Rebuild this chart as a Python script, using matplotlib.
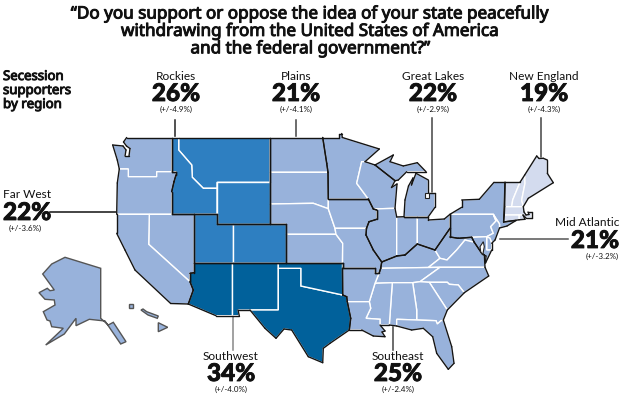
import matplotlib
matplotlib.use("Agg")
import matplotlib.pyplot as plt
from matplotlib.patches import Polygon
import matplotlib.patheffects as pe
from collections import Counter

plt.rcParams['font.family'] = ['Lato', 'Noto Sans', 'DejaVu Sans']

TITLE_LINES = ["\u201cDo you support or oppose the idea of your state peacefully",
               "withdrawing from the United States of America",
               "and the federal government?\u201d"]
SIDE_LINES = ["Secession", "supporters", "by region"]

REGION_NAMES = ["Rockies", "Plains", "Great Lakes", "New England", "Far West", "Mid Atlantic", "Southwest", "Southeast"]
REGION_PCT = ["26%", "21%", "22%", "19%", "22%", "21%", "34%", "25%"]
REGION_MOE = ["(+/-4.9%)", "(+/-4.1%)", "(+/-2.9%)", "(+/-4.3%)", "(+/-3.6%)", "(+/-3.2%)", "(+/-4.0%)", "(+/-2.4%)"]

# State outlines (map geometry, in picture coordinates)
WA = [(126.7,137.5),(171.7,137.5),(171.7,171.7),(156.7,171.7),(156.7,176.7),(128.3,176.7),(128.3,169),(119.3,169),(117.3,160),(112.7,145),(123,146),(126,150),(125,156),(129,156),(130,148.5),(126.5,146),(123.5,142)]
OR = [(119.3,169),(128.3,169),(128.3,176.7),(156.7,176.7),(156.7,171.7),(171.7,171.7),(176,171.7),(176,175),(174,181.7),(171.7,191.7),(171.7,214.3),(149.3,214.3),(116.7,214.3),(117.3,183)]
NV = [(149.3,214.3),(171.7,214.3),(194.3,214.3),(194.3,263.3),(194.3,272.7),(190,273.3),(190,281.7),(148.7,244.3)]
CA = [(116.7,214.3),(149.3,214.3),(148.7,244.3),(190,281.7),(193.3,290),(188.3,304),(170.7,303.5),(135,270),(125,250),(116.7,233.3)]
AK = [(65,257.3),(100.7,268.3),(100.7,318.3),(108.3,325),(113.3,322.3),(126,341.7),(120.7,344),(105,321),(89.3,319.3),(76,325.7),(76,318.3),(64.3,334),(45.7,345),(63.3,328.3),(51.7,326.7),(50,321),(47,320),(43.3,311.7),(55,305),(54.3,300),(45,299.3),(39,292.7),(47.3,288.3),(50,290.7),(54.3,290),(42.7,274),(51.7,264)]
HI1 = [(128.7,304.3),(133.3,304.3),(133.3,307.7),(128.7,307.7)]
HI2 = [(141,310),(143,309),(146.7,311.7),(158.3,316),(157.3,318.3),(148,315)]
HI3 = [(158.3,322.7),(167.7,327.3),(158.3,331.7)]

MT = [(178.7,137.5),(270,137.5),(270,182.3),(217,182.3),(217,188.3),(203.3,188.3),(192.3,177.3),(191.7,165),(178.7,150)]
ID = [(171.7,137.5),(178.7,137.5),(178.7,150),(191.7,165),(192.3,177.3),(203.3,188.3),(217,188.3),(217,214.3),(194.3,214.3),(171.7,214.3),(171.7,191.7),(174,181.7),(176,175),(176,171.7),(171.7,171.7)]
WY = [(217,182.3),(270,182.3),(270,224),(217,224),(217,214.3),(217,188.3)]
UT = [(194.3,214.3),(217,214.3),(217,224),(232.5,224),(232.5,263.3),(194.3,263.3)]
CO = [(232.5,224),(285.7,224),(285.7,263.3),(232.5,263.3)]

AZ = [(194.3,263.3),(232.5,263.3),(232.5,315.7),(216,315.7),(188.3,304),(193.3,290),(190,281.7),(190,273.3),(194.3,272.7)]
NM = [(232.5,263.3),(278.3,263.3),(278.3,268.3),(278.3,310),(250,310),(238,310),(239.3,315.7),(232.5,315.7)]
TX = [(278.3,268.3),(301,268.3),(301,286),(342.7,295),(346.7,296.7),(347.3,301.7),(350.7,318.3),(349.3,330),(330,343.3),(323.3,348.3),(322.7,362.7),(308.3,356.7),(291.7,330),(284,329),(276,338.3),(265,328.3),(250,310),(278.3,310)]
OK = [(278.3,263.3),(342.5,263.3),(342.5,268.3),(342.7,295),(301,286),(301,268.3),(278.3,268.3)]

ND = [(270,137.5),(322.7,137.5),(326.7,163.3),(328,172.3),(270,172.3)]
SD = [(270,172.3),(328,172.3),(328.3,199),(328.3,208.7),(313.3,203.3),(270,204)]
NE = [(270,204),(313.3,203.3),(328.3,208.7),(335,228.3),(336,234.3),(285.7,234.3),(285.7,224),(270,224)]
KS = [(285.7,234.3),(336,234.3),(342.7,243.3),(342.5,263.3),(285.7,263.3)]
IA = [(328.3,199),(368.3,199),(373.3,209),(376.7,210),(376.7,219.3),(369,221.7),(366.5,228.3),(335,228.3),(328.3,208.7)]
MO = [(335,228.3),(366.5,228.3),(366,235),(373.3,250),(381.7,262),(380.7,268.3),(379.3,272.7),(375,272.7),(375,268.3),(342.5,268.3),(342.5,263.3),(342.7,243.3),(336,234.3)]

MN = [(322.7,137.5),(339.3,137.5),(339.3,133.5),(341.7,133.5),(342.3,137.5),(379.3,149),(365,161.7),(361.7,161.7),(356.7,183.3),(368.3,199),(328.3,199),(328,172.3),(326.7,163.3)]
WI = [(361.7,161.7),(365,161.7),(375,165),(395,180.7),(391.5,187.5),(397,184),(395,208.3),(373.3,209),(368.3,199),(356.7,183.3)]
MI_U = [(375,165),(393.3,155),(390,161.7),(403.3,166),(417.3,162.7),(426,171.7),(406.7,171.7),(398.3,180),(395,180.7)]
MI_L = [(404,216.7),(405,200),(408.5,186),(413,178),(411.5,185),(416,173.3),(428.3,180),(428.3,193.3),(435,193.3),(435,207.3),(428.3,216.7),(417.3,216.7)]
IL = [(373.3,209),(395,208.3),(396.7,217),(396.7,256),(381.7,262),(373.3,250),(366,235),(366.5,228.3),(369,221.7),(376.7,219.3),(376.7,210)]
IN = [(396.7,217),(404,216.7),(417.3,216.7),(417.3,244),(405,255),(396.7,256)]
OH = [(417.3,216.7),(428.3,216.7),(428.3,220),(444.3,219),(450,214.3),(450,228.3),(435,250),(417.3,244)]

NY = [(450,214.3),(461.7,207.3),(461.7,200),(479.3,199.3),(494,182.3),(505,182.3),(503.6,222),(516,220.5),(507,226),(499.5,228),(499.5,224),(493.3,214.3)]
PA = [(450,214.3),(493.3,214.3),(496,221),(490.7,226.7),(493.3,233.3),(486.7,236.7),(471.7,237.3),(458.3,238.3),(450,237),(450,228.3)]
NJ = [(493.3,214.3),(499.5,224),(499.5,228),(495,240),(491.7,243.3),(490,238.3),(486.7,236.7),(493.3,233.3),(490.7,226.7),(496,221)]
DE = [(486.7,236.7),(490,238.3),(491.7,243.3),(491.7,250),(486.7,250)]
MD = [(471.7,237.3),(486.7,236.7),(486.7,250),(491.7,250),(485.5,263),(486,256),(484.3,255),(481.7,253.3),(474.3,242.3)]

VT = [(505,182.3),(520,182.3),(512.7,200),(511.7,206.7),(504.7,206.7)]
NH = [(520,182.3),(524.7,175),(525,183.3),(521.7,200),(523.3,206.7),(511.7,206.7),(512.7,200)]
ME = [(524.7,175),(536.7,156),(539,158.5),(543.3,158.3),(547.3,160),(547.3,173.3),(553.3,182.7),(528.3,198.3),(523.3,206.7),(521.7,200),(525,183.3)]
MA = [(504.7,206.7),(511.7,206.7),(523.3,206.7),(524,212),(526,215),(529,214.5),(528,212),(531.5,212),(531.5,218),(526,218),(523,215),(519,215),(504.3,215)]
RI = [(519,215),(523,215),(525,219.3),(519,219.8)]
CT = [(504.3,215),(519,215),(519,219.8),(503.6,222)]

KY = [(381.7,262),(396.7,256),(405,255),(417.3,244),(435,250),(440,258.3),(428.3,267.5),(380.7,268.3)]
WV = [(435,250),(450,228.3),(450,237),(458.3,238.3),(471.7,237.3),(474.3,242.3),(465,240),(456.7,250),(447,260),(440,258.3)]
VA = [(428.3,267.5),(440,258.3),(447,260),(456.7,250),(465,240),(474.3,242.3),(481.7,253.3),(484.3,255),(485,267.3),(440,267.3)]
TN = [(380.7,268.3),(428.3,267.5),(440,267.3),(420,281.7),(412.7,282.7),(392.3,282.7),(375,283.3),(379.3,272.7)]
NC = [(440,267.3),(485,267.3),(488.7,276),(464.3,292.7),(458.3,285),(449.3,284.3),(447.3,282.3),(429.3,282.3),(420,281.7)]
SC = [(429.3,282.3),(447.3,282.3),(449.3,284.3),(458.3,285),(464.3,292.7),(447.3,310)]
GA = [(412.7,282.7),(420,281.7),(429.3,282.3),(447.3,310),(443.3,320),(440.7,321),(437.3,324),(436,320.7),(416.7,320),(416.7,310)]
AL = [(392.3,282.7),(412.7,282.7),(416.7,310),(416.7,320),(396.7,319.3),(396.7,326),(389.3,325)]
MS = [(375,283.3),(392.3,282.7),(389.3,325),(380,325),(380,319.3),(366,318.3),(370.7,308.3),(369.3,301.7)]
AR = [(342.5,268.3),(375,268.3),(375,272.7),(379.3,272.7),(375,283.3),(369.3,301.7),(347.3,301.7),(346.7,296.7),(342.7,295)]
LA = [(347.3,301.7),(369.3,301.7),(370.7,308.3),(366,318.3),(380,319.3),(380,325),(385,331),(382,332),(385,336.7),(373.3,336),(361.7,330),(349.3,330),(350.7,318.3)]
FL = [(396.7,319.3),(416.7,320),(436,320.7),(437.3,324),(440.7,321),(443.3,320),(451.7,346.7),(454,363.3),(448.3,369.3),(436.7,353.3),(432.7,336.7),(423.3,328.3),(411.7,330),(396.7,326)]

BAY = [(480,246.7),(483.3,241.7),(484.3,246.7),(482.7,255),(480.7,251.7)]
SAGINAW = [(425,192.7),(428.5,192.7),(428.5,197.5),(425,197.5)]

LIGHT, PALE, MID, DARK = "#98B2DB", "#D3DBEE", "#2E7FC1", "#01619B"

# (fill colour, outlined group of states)
GROUPS = [
    (LIGHT, [WA, OR, NV, CA]),
    (LIGHT, [ND, SD, NE, KS, IA, MO]),
    (LIGHT, [MN, WI, IL, IN, OH]),
    (LIGHT, [MI_U]), (LIGHT, [MI_L]),
    (LIGHT, [KY, WV, VA, TN, NC, SC, GA, AL, MS, AR, LA, FL]),
    (LIGHT, [NY, PA, NJ, DE, MD]),
    (PALE, [VT, NH, ME, MA, RI, CT]),
    (MID, [MT, ID, WY]),
    (MID, [UT, CO]),
    (DARK, [AZ, NM, TX, OK]),
]
ISLANDS = [AK, HI1, HI2, HI3]

fig = plt.figure(figsize=(6.21, 4.01), dpi=100)
ax = fig.add_axes([0, 0, 1, 1])
ax.set_xlim(0, 621)
ax.set_ylim(401, 0)
ax.axis("off")

def key(a, b):
    return (a, b) if a <= b else (b, a)

for color, states in GROUPS:
    counts = Counter()
    for s in states:
        ax.add_patch(Polygon(s, closed=True, facecolor=color, edgecolor="white", lw=1.0, zorder=2))
        for a, b in zip(s, s[1:] + s[:1]):
            counts[key(a, b)] += 1
    for (a, b), n in counts.items():
        if n == 1:
            ax.plot([a[0], b[0]], [a[1], b[1]], color="#141414", lw=1.0, solid_capstyle="round", zorder=3)

for s in ISLANDS:
    ax.add_patch(Polygon(s, closed=True, facecolor=LIGHT, edgecolor="#555555", lw=1.0, zorder=2))
for s in [BAY, SAGINAW]:
    ax.add_patch(Polygon(s, closed=True, facecolor="white", edgecolor="#222222", lw=0.8, zorder=4))

# Leaders: x0, y0, x1, y1, colour
LEADERS = [(175, 120, 175, 137.5, "#222222"), (296.3, 120, 296.3, 137.5, "#444444"),
           (432.3, 118, 432.3, 193, "#444444"), (540.7, 118, 540.7, 157, "#444444"),
           (50, 212.3, 116, 212.3, "#111111"), (500, 238.5, 568, 238.5, "#555555"),
           (232.7, 316, 232.7, 350, "#888888"), (393.3, 326, 393.3, 350, "#444444")]
for x0, y0, x1, y1, c in LEADERS:
    ax.plot([x0, x1], [y0, y1], color=c, lw=1.1, zorder=1.5)

heavy = [pe.withStroke(linewidth=0.7, foreground="#111111")]
for i, line in enumerate(TITLE_LINES):
    ax.text(311, 14.5 + i * 17.4, line, ha="center", va="center", fontsize=12.3, fontweight="black",
            family=["Noto Sans", "DejaVu Sans"], color="#111111", path_effects=heavy)
for i, line in enumerate(SIDE_LINES):
    ax.text(3, 76.5 + i * 14, line, ha="left", va="center", fontsize=9.5, fontweight="black",
            family=["Noto Sans", "DejaVu Sans"], color="#111111", path_effects=heavy)

# anchor x, top y, alignment of each label block
LABEL_X = [176, 296, 433, 544, 3, 619, 231, 398]
LABEL_Y = [76, 76, 76, 76, 195, 223, 356, 356]
LABEL_HA = ["center", "center", "center", "center", "left", "right", "center", "center"]
MOE_X = [176, 296, 433, 544, 25, 619, 231, 398]
for name, pct, moe, x, y, ha, mx in zip(REGION_NAMES, REGION_PCT, REGION_MOE, LABEL_X, LABEL_Y, LABEL_HA, MOE_X):
    ax.text(x, y, name, ha=ha, va="center", fontsize=8.6, color="#111111")
    ax.text(x, y + 17.5, pct, ha=ha, va="center", fontsize=17.5, fontweight="black", color="#111111",
            path_effects=[pe.withStroke(linewidth=0.6, foreground="#111111")])
    ax.text(mx, y + 33, moe, ha="center" if ha != "right" else "right", va="center", fontsize=5.8, color="#111111")

fig.savefig("out.png", dpi=100, facecolor="white")
